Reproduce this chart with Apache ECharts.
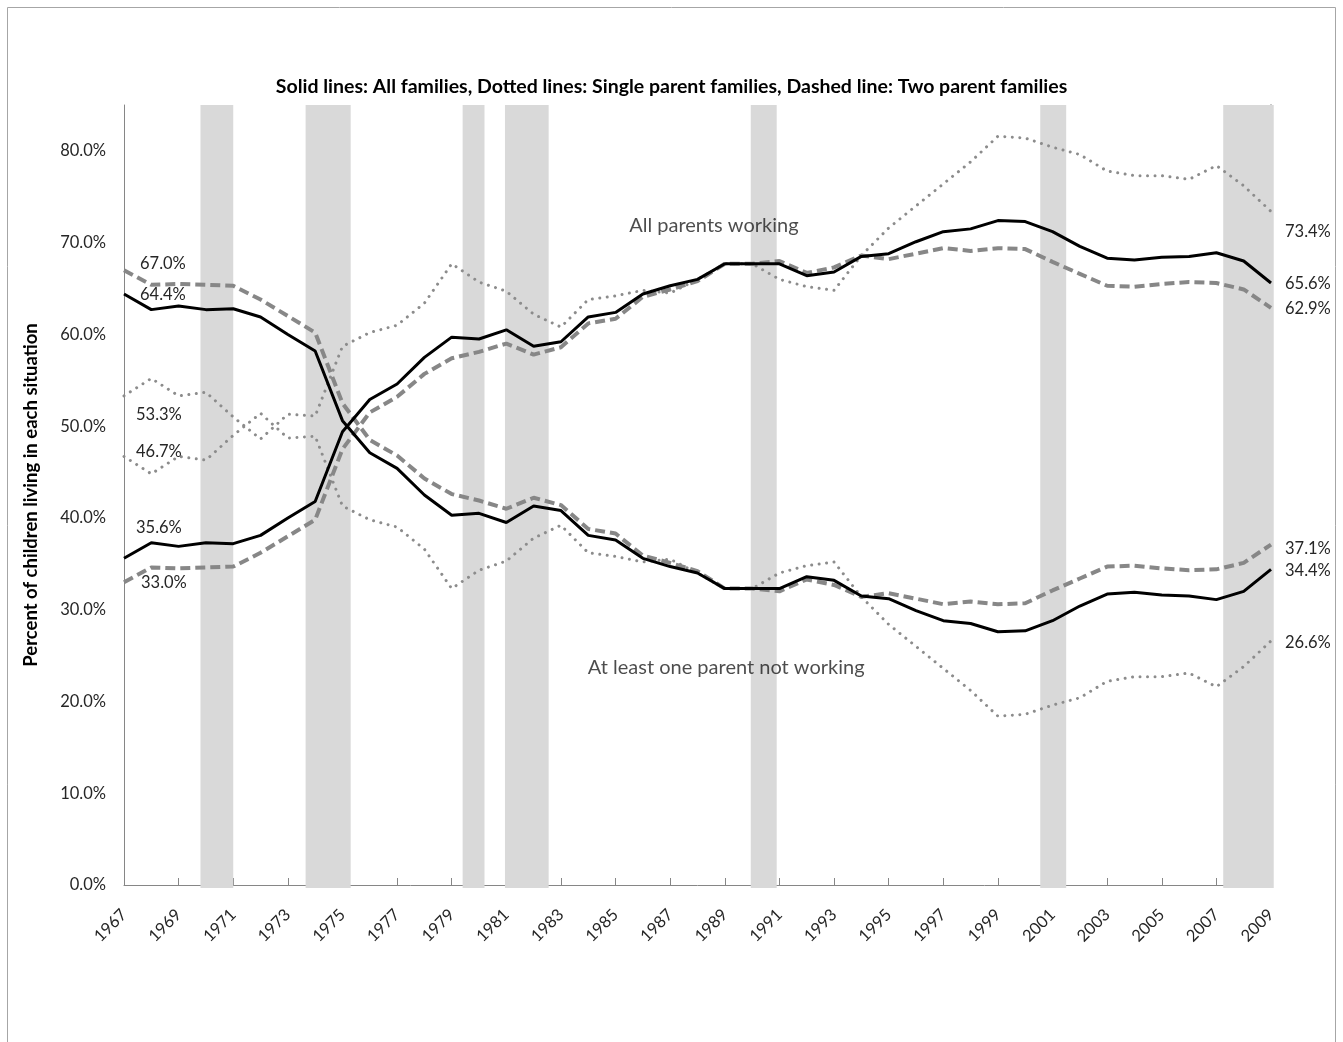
<!DOCTYPE html>
<html>
<head>
<meta charset="utf-8">
<script src="https://cdn.jsdelivr.net/npm/echarts@6/dist/echarts.min.js"></script>
<style>
html, body { margin: 0; padding: 0; background: #fff; }
#chart { width: 1343px; height: 1042px; }
</style>
</head>
<body>
<div id="chart"></div>
<script>
var years = ['1967', '1968', '1969', '1970', '1971', '1972', '1973', '1974', '1975', '1976',
    '1977', '1978', '1979', '1980', '1981', '1982', '1983', '1984', '1985', '1986',
    '1987', '1988', '1989', '1990', '1991', '1992', '1993', '1994', '1995', '1996',
    '1997', '1998', '1999', '2000', '2001', '2002', '2003', '2004', '2005', '2006',
    '2007', '2008', '2009'];

// all families
var allWorking = [35.6, 37.3, 36.9, 37.3, 37.2, 38.1, 40.0, 41.8, 49.4, 52.9,
    54.6, 57.5, 59.7, 59.5, 60.5, 58.7, 59.2, 61.9, 62.4, 64.4,
    65.3, 66.0, 67.7, 67.7, 67.7, 66.4, 66.8, 68.5, 68.8, 70.1,
    71.2, 71.5, 72.4, 72.3, 71.2, 69.6, 68.3, 68.1, 68.4, 68.5,
    68.9, 68.0, 65.6];
var allNotWorking = [64.4, 62.7, 63.1, 62.7, 62.8, 61.9, 60.0, 58.2, 50.6, 47.1,
    45.4, 42.5, 40.3, 40.5, 39.5, 41.3, 40.8, 38.1, 37.6, 35.6,
    34.7, 34.0, 32.3, 32.3, 32.3, 33.6, 33.2, 31.5, 31.2, 29.9,
    28.8, 28.5, 27.6, 27.7, 28.8, 30.4, 31.7, 31.9, 31.6, 31.5,
    31.1, 32.0, 34.4];

// two parent families
var twoWorking = [33.0, 34.6, 34.5, 34.6, 34.7, 36.2, 38.0, 39.8, 47.5, 51.5,
    53.2, 55.7, 57.4, 58.1, 59.0, 57.8, 58.6, 61.2, 61.7, 64.1,
    64.9, 65.8, 67.7, 67.7, 68.0, 66.7, 67.3, 68.6, 68.2, 68.8,
    69.4, 69.1, 69.4, 69.3, 67.9, 66.6, 65.3, 65.2, 65.5, 65.7,
    65.6, 64.9, 62.9];
var twoNotWorking = [67.0, 65.4, 65.5, 65.4, 65.3, 63.8, 62.0, 60.2, 52.5, 48.5,
    46.8, 44.3, 42.6, 41.9, 41.0, 42.2, 41.4, 38.8, 38.3, 35.9,
    35.1, 34.2, 32.3, 32.3, 32.0, 33.3, 32.7, 31.4, 31.8, 31.2,
    30.6, 30.9, 30.6, 30.7, 32.1, 33.4, 34.7, 34.8, 34.5, 34.3,
    34.4, 35.1, 37.1];

// single parent families
var singleWorking = [53.3, 55.2, 53.3, 53.7, 51.0, 48.6, 51.3, 51.1, 58.7, 60.2,
    61.0, 63.4, 67.7, 65.7, 64.7, 62.2, 60.8, 63.8, 64.2, 64.8,
    64.5, 66.0, 67.7, 67.7, 66.0, 65.2, 64.8, 68.6, 71.6, 74.0,
    76.4, 78.8, 81.6, 81.4, 80.4, 79.6, 77.8, 77.3, 77.3, 76.9,
    78.4, 76.2, 73.4];
var singleNotWorking = [46.7, 44.8, 46.7, 46.3, 49.0, 51.4, 48.7, 48.9, 41.3, 39.8,
    39.0, 36.6, 32.3, 34.3, 35.3, 37.8, 39.2, 36.2, 35.8, 35.2,
    35.5, 34.0, 32.3, 32.3, 34.0, 34.8, 35.2, 31.4, 28.4, 26.0,
    23.6, 21.2, 18.4, 18.6, 19.6, 20.4, 22.2, 22.7, 22.7, 23.1,
    21.6, 23.8, 26.6];

// recession periods (start, end as fractional years)
var recessions = [[1969.8, 1971.0], [1973.65, 1975.3], [1979.4, 1980.2], [1980.95, 1982.55],
    [1989.95, 1990.9], [2000.55, 2001.5], [2007.25, 2009.1]];

var notes = [
    { name: 'All parents working', value: [1988.6, 71.9] },
    { name: 'At least one parent not working', value: [1989.05, 23.7] }
];

var FONT = 'Lato';
var TEXT = '#262626';

var solid = { color: '#000000', width: 3, type: 'solid' };
var dashed = { color: '#878787', width: 4, type: [10, 5] };
var dotted = { color: '#8c8c8c', width: 3, type: [0.01, 7.5], cap: 'round' };

function pct(v) {
    return v.toFixed(1) + '%';
}

// line with value labels on its first and last points
function lineSeries(name, values, style, firstOffset, lastOffset) {
    var last = values.length - 1;
    return {
        name: name,
        type: 'line',
        xAxisIndex: 0,
        yAxisIndex: 0,
        symbol: 'circle',
        symbolSize: 0,
        showAllSymbol: true,
        silent: true,
        z: 3,
        lineStyle: style,
        itemStyle: { color: style.color },
        data: values.map(function (v, i) {
            var off = i === 0 ? firstOffset : (i === last ? lastOffset : null);
            if (!off) return v;
            return {
                value: v,
                label: {
                    show: true,
                    position: 'right',
                    distance: 0,
                    offset: off,
                    formatter: pct(v),
                    fontFamily: FONT,
                    fontSize: 16.5,
                    color: TEXT
                }
            };
        })
    };
}

var chart = echarts.init(document.getElementById('chart'));

var option = {
    animation: false,
    backgroundColor: '#ffffff',
    title: {
        left: 'center',
        top: 72,
        text: '{b|Solid lines}{n|: All families, }{b|Dotted lines}{n|: Single parent families, }{b|Dashed line}{n|: Two parent families}',
        textStyle: {
            rich: {
                b: { fontFamily: FONT, fontSize: 19.5, fontWeight: 'bold', color: '#000' },
                n: { fontFamily: FONT, fontSize: 19.5, color: '#000' }
            }
        }
    },
    graphic: [{
        type: 'rect',
        silent: true,
        shape: { x: 7.5, y: 7.5, width: 1328, height: 1060 },
        style: { fill: 'none', stroke: '#a6a6a6', lineWidth: 1 }
    }],
    grid: { left: 124, right: 72, top: 105, bottom: 157 },
    xAxis: [{
        type: 'category',
        data: years,
        boundaryGap: false,
        axisLine: { lineStyle: { color: '#868686', width: 1 } },
        axisTick: { show: true, inside: true, length: 7, interval: 1, lineStyle: { color: '#868686' } },
        axisLabel: { interval: 1, rotate: 45, margin: 27, fontFamily: FONT, fontSize: 16.5, color: TEXT },
        splitLine: { show: false }
    }, {
        type: 'value',
        min: 1967,
        max: 2009,
        show: false
    }],
    yAxis: [{
        type: 'value',
        min: 0,
        max: 85,
        interval: 10,
        name: 'Percent of children living in each situation',
        nameLocation: 'middle',
        nameGap: 83,
        nameTextStyle: { fontFamily: FONT, fontSize: 18.5, fontWeight: 'bold', color: '#000' },
        axisLine: { show: true, lineStyle: { color: '#868686', width: 1 } },
        axisTick: { show: false },
        axisLabel: {
            margin: 18,
            fontFamily: FONT,
            fontSize: 16.5,
            color: TEXT,
            formatter: function (v) { return v % 10 === 0 ? v.toFixed(1) + '%' : ''; }
        },
        splitLine: { show: false }
    }, {
        type: 'value',
        position: 'right',
        min: 0,
        max: 85,
        axisLine: { show: true, lineStyle: { color: '#7a7a7a', width: 1.5 } },
        axisTick: { show: false },
        axisLabel: { show: false },
        splitLine: { show: false }
    }],
    series: [
        {
            type: 'custom',
            xAxisIndex: 1,
            yAxisIndex: 0,
            silent: true,
            z: 1,
            encode: { x: [0, 1] },
            data: recessions,
            renderItem: function (params, api) {
                var p0 = api.coord([api.value(0), 85]);
                var p1 = api.coord([api.value(1), 0]);
                return {
                    type: 'rect',
                    shape: { x: p0[0], y: p0[1], width: p1[0] - p0[0], height: p1[1] - p0[1] + 3 },
                    style: { fill: '#d9d9d9' }
                };
            }
        },
        lineSeries('Single, working', singleWorking, dotted, [12, 19], [14, 20]),
        lineSeries('Single, not working', singleNotWorking, dotted, [12, -5], [14, 2]),
        lineSeries('Two, working', twoWorking, dashed, [17, 0], [14, 1]),
        lineSeries('Two, not working', twoNotWorking, dashed, [16, -7], [14, 4]),
        lineSeries('All, working', allWorking, solid, [12, -31], [14, 1]),
        lineSeries('All, not working', allNotWorking, solid, [16, 1], [14, 1]),
        {
            type: 'scatter',
            xAxisIndex: 1,
            yAxisIndex: 0,
            silent: true,
            symbolSize: 0,
            z: 4,
            data: notes,
            label: {
                show: true,
                position: 'inside',
                formatter: '{b}',
                fontFamily: FONT,
                fontSize: 20,
                color: '#1f1f1f'
            }
        }
    ]
};

chart.setOption(option);
</script>
</body>
</html>
